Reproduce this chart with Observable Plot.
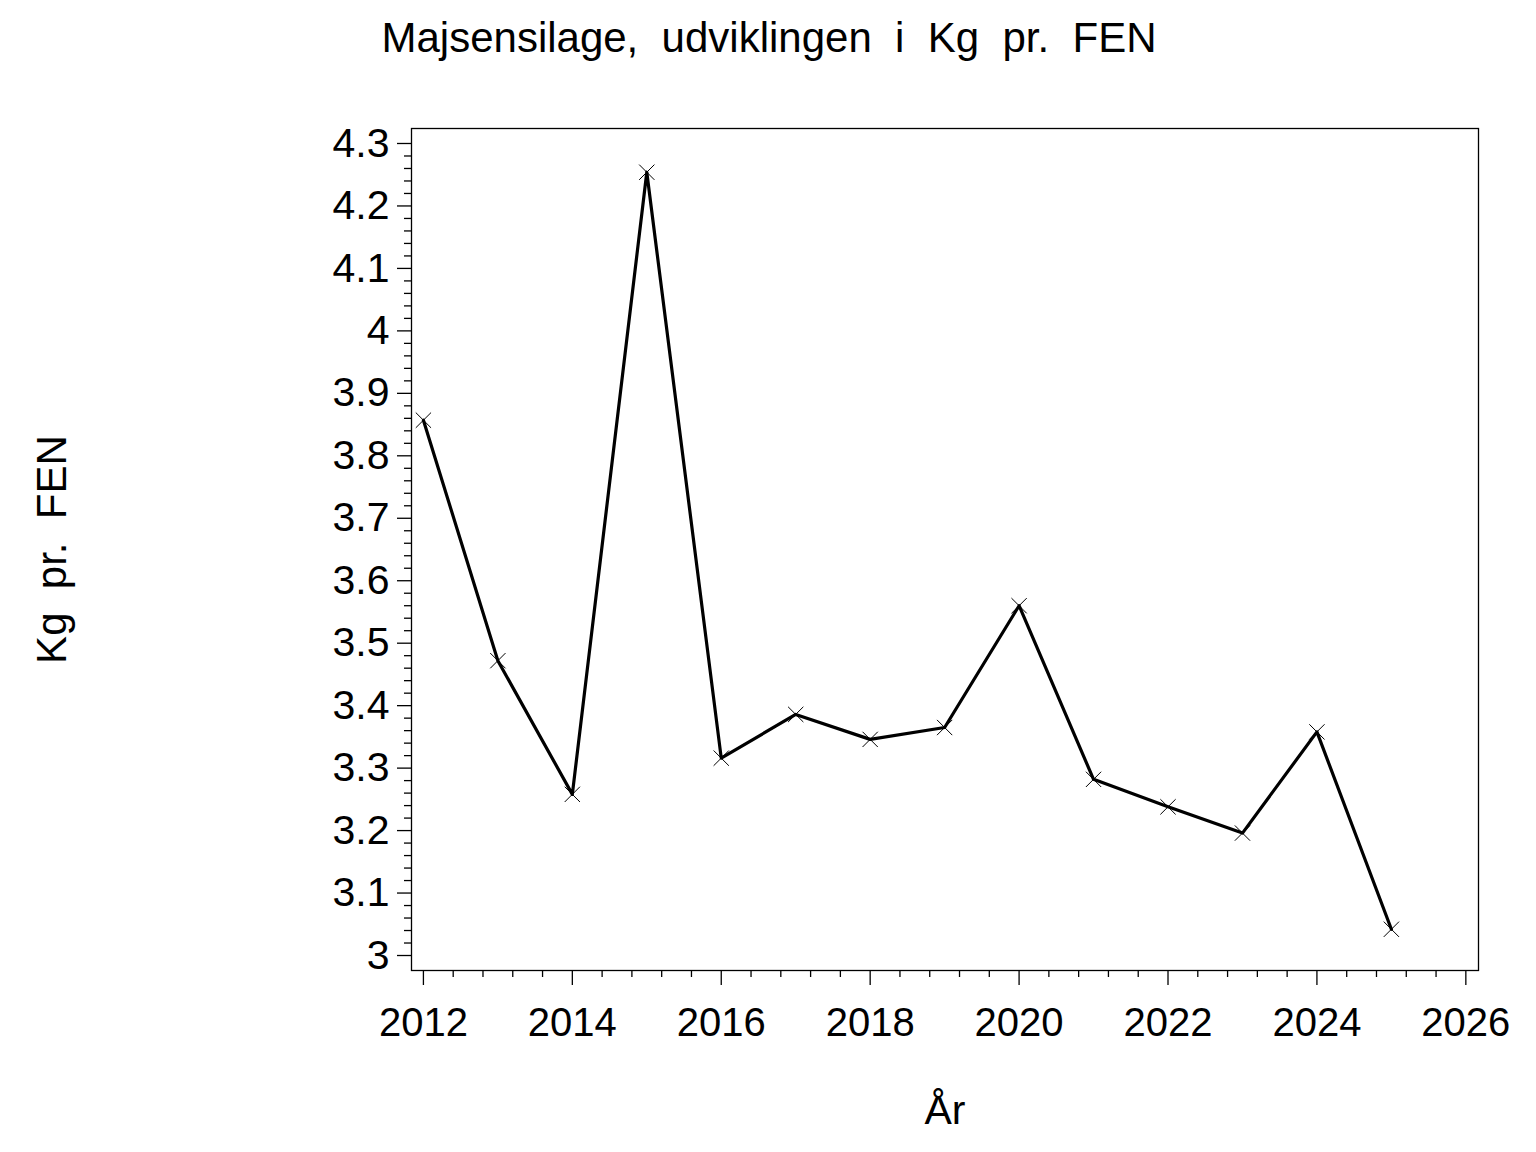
<!DOCTYPE html>
<html>
<head>
<meta charset="utf-8">
<script src="https://cdn.jsdelivr.net/npm/d3@7"></script>
<script src="https://cdn.jsdelivr.net/npm/@observablehq/plot@0.6"></script>
<style>
  html, body { margin: 0; padding: 0; background: #fff; }
  #chart svg { display: block; }
  #chart svg text { white-space: pre; }
</style>
</head>
<body>
<div id="chart"></div>
<script>
const years = [2012, 2013, 2014, 2015, 2016, 2017, 2018, 2019, 2020, 2021, 2022, 2023, 2024, 2025];
const kgPerFEN = [3.857, 3.472, 3.258, 4.254, 3.316, 3.386, 3.346, 3.365, 3.560, 3.282, 3.238, 3.196, 3.358, 3.042];
const xTicks = [2012, 2014, 2016, 2018, 2020, 2022, 2024, 2026];
const yTicks = [3, 3.1, 3.2, 3.3, 3.4, 3.5, 3.6, 3.7, 3.8, 3.9, 4, 4.1, 4.2, 4.3];
const yTickLabels = ["3", "3.1", "3.2", "3.3", "3.4", "3.5", "3.6", "3.7", "3.8", "3.9", "4", "4.1", "4.2", "4.3"];
const titleText = "Majsensilage,  udviklingen  i  Kg  pr.  FEN";
const xLabel = "År";
const yLabel = "Kg  pr.  FEN";

const data = years.map((y, i) => ({year: y, value: kgPerFEN[i]}));
const xMinor = d3.range(0, 36).map(i => 2012 + i * 0.4).filter(v => v <= 2026.01 && Math.abs(v / 2 - Math.round(v / 2)) > 0.01);
const yMinor = d3.range(0, 66).map(i => +(3 + i * 0.02).toFixed(2)).filter(v => v <= 4.3 && Math.abs(v * 10 - Math.round(v * 10)) > 0.01);

const font = "'Liberation Sans', Arial, sans-serif";

const chart = Plot.plot({
  width: 1536,
  height: 1152,
  marginLeft: 411,
  marginRight: 58,
  marginTop: 128,
  marginBottom: 182,
  style: {fontFamily: font, color: "black", background: "white"},
  x: {domain: [2011.84, 2026.17]},
  y: {domain: [2.976, 4.324]},
  marks: [
    Plot.frame({stroke: "black", strokeWidth: 1.3}),
    Plot.axisY({ticks: yTicks, tickSize: 14, tickPadding: 8, fontSize: 41, label: null, stroke: "black", strokeWidth: 1.3,
      tickFormat: d => yTickLabels[yTicks.findIndex(t => Math.abs(t - d) < 1e-9)]}),
    Plot.axisY({ticks: yMinor, tickSize: 7, tickFormat: () => "", label: null, stroke: "black", strokeWidth: 1.3}),
    Plot.axisX({ticks: xTicks, tickSize: 15, tickPadding: 22, fontSize: 40, tickFormat: "d", label: null, stroke: "black", strokeWidth: 1.3}),
    Plot.axisX({ticks: xMinor, tickSize: 7, tickFormat: () => "", label: null, stroke: "black", strokeWidth: 1.3}),
    Plot.line(data, {x: "year", y: "value", stroke: "black", strokeWidth: 3.2}),
    Plot.dot(data, {x: "year", y: "value", symbol: "times", r: 7, stroke: "black", strokeWidth: 1}),
    Plot.text([titleText], {frameAnchor: "top", dx: -176, dy: -90, text: d => d, fontSize: 42, fill: "black", lineAnchor: "middle", textAnchor: "middle"}),
    Plot.text([xLabel], {frameAnchor: "bottom", dy: 140, text: d => d, fontSize: 41, fill: "black", lineAnchor: "middle", textAnchor: "middle"}),
    Plot.text([yLabel], {frameAnchor: "left", dx: -359, rotate: -90, text: d => d, fontSize: 42, fill: "black", lineAnchor: "middle", textAnchor: "middle"})
  ]
});
document.getElementById("chart").appendChild(chart);
</script>
</body>
</html>
